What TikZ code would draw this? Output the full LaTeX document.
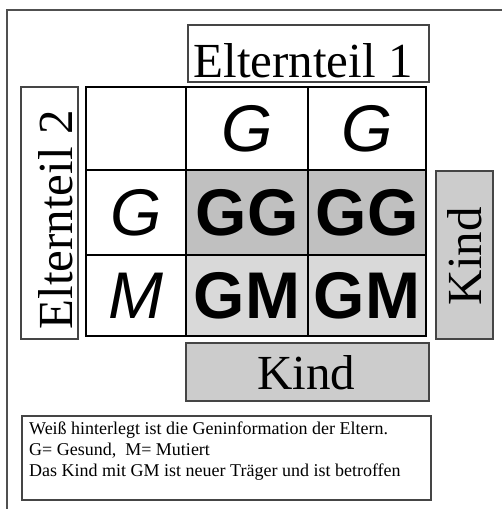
\documentclass[tikz,border=0pt]{standalone}
\usepackage{fontspec}
\setmainfont{Liberation Serif}
\newfontfamily\arialfont{Liberation Sans}
\definecolor{boxline}{HTML}{454545}
\definecolor{framecol}{HTML}{505050}
\definecolor{darkcell}{HTML}{C0C0C0}
\definecolor{lightcell}{HTML}{D9D9D9}
\definecolor{kindfill}{HTML}{CCCCCC}
\tikzset{
  labelbox/.style={draw=boxline, line width=1.3pt, inner sep=0pt, outer sep=0pt},
  bigserif/.style={inner sep=0pt, font=\fontsize{49}{49}\selectfont},
  cell/.style={draw=black, line width=2pt, inner sep=0pt, outer sep=0pt},
  italicletter/.style={font=\arialfont\itshape\fontsize{66}{66}\selectfont},
  boldletter/.style={font=\arialfont\bfseries\fontsize{66}{66}\selectfont},
  note/.style={inner sep=0pt, anchor=north west, align=left, font=\fontsize{18}{21}\selectfont}
}
\begin{document}
\begin{tikzpicture}[x=1pt,y=-1pt]
\useasboundingbox (0,0) rectangle (502,509);
\fill[white] (0,0) rectangle (502,509);
% outer frame (only top and left edges visible)
\draw[framecol, line width=2pt] (7,515) -- (7,9.5) -- (510,9.5);

% Elternteil 1
\node[labelbox, minimum width=241pt, minimum height=57pt] (e1box) at (308.5,53.5) {};
\node[bigserif] (e1) at (303,61) {Elternteil 1};

% Elternteil 2
\node[labelbox, minimum width=57pt, minimum height=252pt] (e2box) at (49.5,213) {};
\node[bigserif, rotate=90] (e2) at (56,220) {Elternteil 2};

% grid cells
\node[cell, fill=white, minimum width=100pt, minimum height=83pt] (c11) at (136,128.5) {};
\node[cell, fill=white, minimum width=122pt, minimum height=83pt, italicletter] (c12) at (247,128.5) {G};
\node[cell, fill=white, minimum width=118pt, minimum height=83pt, italicletter] (c13) at (367,128.5) {G};
\node[cell, fill=white, minimum width=100pt, minimum height=85pt, italicletter] (c21) at (136,212.5) {G};
\node[cell, fill=darkcell, minimum width=122pt, minimum height=85pt, boldletter] (c22) at (247,212.5) {GG};
\node[cell, fill=darkcell, minimum width=118pt, minimum height=85pt, boldletter] (c23) at (367,212.5) {GG};
\node[cell, fill=white, minimum width=100pt, minimum height=81pt, italicletter] (c31) at (136,295.5) {M};
\node[cell, fill=lightcell, minimum width=122pt, minimum height=81pt, boldletter] (c32) at (247,295.5) {GM};
\node[cell, fill=lightcell, minimum width=118pt, minimum height=81pt, boldletter] (c33) at (367,295.5) {GM};

% Kind right
\node[labelbox, fill=kindfill, minimum width=57pt, minimum height=168pt] (k1box) at (464.5,255) {};
\node[bigserif, rotate=90] (k1) at (465,256) {Kind};

% Kind bottom
\node[labelbox, fill=kindfill, minimum width=243pt, minimum height=58pt] (k2box) at (307.5,372) {};
\node[bigserif] (k2) at (306,372.5) {Kind};

% legend
\node[labelbox, minimum width=409pt, minimum height=84pt] (legbox) at (226.5,458) {};
\node[note] (leg) at (29,422) {Weiß hinterlegt ist die Geninformation der Eltern.\\G= Gesund,\ \ M= Mutiert\\Das Kind mit GM ist neuer Träger und ist betroffen};
\end{tikzpicture}
\end{document}
